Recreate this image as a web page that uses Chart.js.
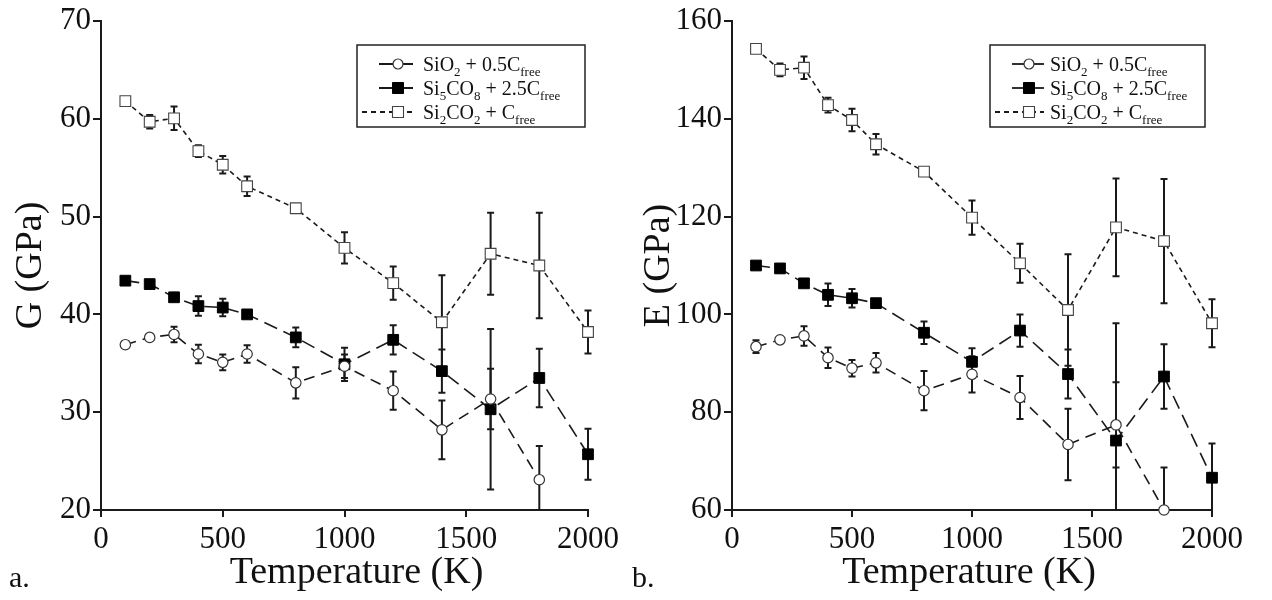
<!DOCTYPE html>
<html>
<head>
<meta charset="utf-8">
<script src="https://cdn.jsdelivr.net/npm/chart.js@4.4.1/dist/chart.umd.min.js"></script>
<style>
	body { margin: 0; background: #fff; }
	#wrap { position: relative; width: 1272px; height: 600px; font-family: 'Liberation Serif', serif; }
	.panel { position: absolute; top: 0; width: 636px; height: 600px; }
	.tag { position: absolute; top: 562px; font-size: 30px; line-height: 30px; color: #111; }
</style>
</head>
<body>
<div id="wrap">
	<div class="panel" style="left:0"><canvas id="chartG" width="636" height="600"></canvas></div>
	<div class="panel" style="left:636px"><canvas id="chartE" width="636" height="600"></canvas></div>
	<div class="tag" style="left:9px">a.</div>
	<div class="tag" style="left:632px">b.</div>
</div>
<script>
// temperatures (K)
const temps = [100, 200, 300, 400, 500, 600, 800, 1000, 1200, 1400, 1600, 1800, 2000];
const seriesNames = ['SiO2 + 0.5Cfree', 'Si5CO8 + 2.5Cfree', 'Si2CO2 + Cfree'];
// legend text split into [text, isSubscript]
const seriesLabelParts = [
	[['SiO', 0], ['2', 1], [' + 0.5C', 0], ['free', 1]],
	[['Si', 0], ['5', 1], ['CO', 0], ['8', 1], [' + 2.5C', 0], ['free', 1]],
	[['Si', 0], ['2', 1], ['CO', 0], ['2', 1], [' + C', 0], ['free', 1]]
];

// shear modulus G (GPa) and error
const gSiO2 = [36.9, 37.65, 37.95, 35.95, 35.1, 35.95, 33.0, 34.7, 32.2, 28.2, 31.35, 23.1, null];
const gSiO2Err = [0.3, 0.2, 0.8, 0.95, 0.8, 0.9, 1.6, 1.2, 1.95, 3.0, 3.1, 3.45, null];
const gSi5CO8 = [43.45, 43.1, 41.75, 40.85, 40.7, 40.0, 37.65, 34.9, 37.4, 34.2, 30.3, 33.5, 25.7];
const gSi5CO8Err = [0.2, 0.4, 0.3, 1.0, 0.9, 0.3, 1.0, 1.7, 1.5, 2.2, 8.2, 3.0, 2.6];
const gSi2CO2 = [61.8, 59.7, 60.05, 56.7, 55.3, 53.1, 50.85, 46.8, 43.2, 39.2, 46.2, 45.0, 38.2];
const gSi2CO2Err = [0.2, 0.7, 1.2, 0.6, 0.9, 1.0, 0.3, 1.6, 1.7, 4.8, 4.2, 5.4, 2.2];
const gTicks = [20, 70, 10];

// Young's modulus E (GPa) and error
const eSiO2 = [93.4, 94.8, 95.6, 91.15, 89.0, 90.1, 84.4, 87.75, 83.0, 73.4, 77.4, 60.0, null];
const eSiO2Err = [1.3, 0.4, 2.0, 2.1, 1.7, 2.0, 4.0, 3.7, 4.4, 7.3, 8.7, 8.7, null];
const eSi5CO8 = [110.0, 109.4, 106.35, 104.0, 103.3, 102.3, 96.25, 90.3, 96.7, 87.8, 74.2, 87.3, 66.6];
const eSi5CO8Err = [0.4, 0.8, 0.5, 2.3, 1.9, 0.5, 2.3, 2.8, 3.3, 5.0, 24.0, 6.6, 7.0];
const eSi2CO2 = [154.3, 150.0, 150.45, 142.8, 139.75, 134.8, 129.2, 119.8, 110.45, 100.9, 117.8, 115.0, 98.2];
const eSi2CO2Err = [0.4, 1.3, 2.3, 1.5, 2.3, 2.1, 0.5, 3.5, 4.0, 11.4, 10.0, 12.7, 4.9];
const eTicks = [60, 160, 20];

const serif = '"Liberation Serif", "Times New Roman", serif';
const ink = '#1a1a1a';

// vertical error bars, drawn under the lines and markers
const errorBars = {
	id: 'errorBars',
	beforeDatasetsDraw(chart) {
		const ctx = chart.ctx, area = chart.chartArea;
		const xs = chart.scales.x, ys = chart.scales.y;
		ctx.save();
		ctx.beginPath();
		ctx.rect(area.left, area.top - 1, area.right - area.left + 8, area.bottom - area.top + 1);
		ctx.clip();
		ctx.strokeStyle = ink;
		ctx.lineWidth = 2;
		chart.data.datasets.forEach(ds => {
			ds.data.forEach((p, i) => {
				const e = ds.errors[i];
				if(p.y == null || !e) return;
				const px = xs.getPixelForValue(p.x);
				const top = ys.getPixelForValue(p.y + e);
				const bot = ys.getPixelForValue(p.y - e);
				ctx.beginPath();
				ctx.moveTo(px, top); ctx.lineTo(px, bot);
				ctx.moveTo(px - 3.5, top); ctx.lineTo(px + 3.5, top);
				ctx.moveTo(px - 3.5, bot); ctx.lineTo(px + 3.5, bot);
				ctx.stroke();
			});
		});
		ctx.restore();
	}
};

// x axis title, drawn by hand so it can sit a little off centre like the original
const xTitle = {
	id: 'xTitle',
	afterDraw(chart, args, opts) {
		const ctx = chart.ctx, area = chart.chartArea;
		ctx.save();
		ctx.font = '38px ' + serif;
		ctx.fillStyle = '#111';
		ctx.textAlign = 'center';
		ctx.textBaseline = 'alphabetic';
		ctx.fillText(opts.text, (area.left + area.right) / 2 + opts.dx, 583);
		ctx.restore();
	}
};

function drawRich(ctx, parts, x, y) {
	parts.forEach(([txt, sub]) => {
		ctx.font = (sub ? '13px ' : '20px ') + serif;
		ctx.fillText(txt, x, sub ? y + 5 : y);
		x += ctx.measureText(txt).width;
	});
}

// boxed legend with subscripts
const boxLegend = {
	id: 'boxLegend',
	afterDraw(chart, args, opts) {
		const ctx = chart.ctx;
		ctx.save();
		ctx.strokeStyle = '#222';
		ctx.lineWidth = 1.5;
		ctx.strokeRect(opts.x, opts.y, opts.w, opts.h);
		chart.data.datasets.forEach((ds, i) => {
			const cy = opts.y + 19 + i * 24;
			const mx = opts.x + opts.marker;
			ctx.strokeStyle = ink;
			ctx.lineWidth = 1.8;
			ctx.setLineDash(ds.legendDash);
			ctx.beginPath();
			ctx.moveTo(opts.x + ds.legendStart, cy);
			ctx.lineTo(opts.x + opts.lineEnd, cy);
			ctx.stroke();
			ctx.setLineDash([]);
			ctx.fillStyle = ds.pointBackgroundColor;
			ctx.strokeStyle = ds.pointBorderColor;
			ctx.lineWidth = ds.pointBorderWidth;
			ctx.beginPath();
			if(ds.pointStyle === 'circle') {
				ctx.arc(mx, cy, 5, 0, Math.PI * 2);
			} else {
				ctx.rect(mx - 5.5, cy - 5.5, 11, 11);
			}
			ctx.fill();
			ctx.stroke();
			ctx.fillStyle = '#111';
			ctx.textBaseline = 'alphabetic';
			drawRich(ctx, seriesLabelParts[i], opts.x + opts.text, cy + 7);
		});
		ctx.restore();
	}
};

function pts(vals) {
	return temps.map((t, i) => ({ x: t, y: vals[i] }));
}

function makeDatasets(a, aErr, b, bErr, c, cErr) {
	const common = { borderColor: ink, borderWidth: 1.6, fill: false, clip: false, tension: 0 };
	return [
		Object.assign({}, common, {
			label: seriesNames[0], data: pts(a), errors: aErr,
			borderDash: [11, 7], pointStyle: 'circle', pointRadius: 5.2,
			pointBackgroundColor: '#fff', pointBorderColor: '#333', pointBorderWidth: 1.2,
			legendDash: [], legendStart: 22
		}),
		Object.assign({}, common, {
			label: seriesNames[1], data: pts(b), errors: bErr,
			borderDash: [14, 7], pointStyle: 'rect', pointRadius: 7.6,
			pointBackgroundColor: '#000', pointBorderColor: '#000', pointBorderWidth: 1,
			legendDash: [], legendStart: 22
		}),
		Object.assign({}, common, {
			label: seriesNames[2], data: pts(c), errors: cErr,
			borderDash: [5, 4], pointStyle: 'rect', pointRadius: 7.6,
			pointBackgroundColor: '#fff', pointBorderColor: '#444', pointBorderWidth: 1.1,
			legendDash: [5, 4], legendStart: 5
		})
	];
}

function makeOptions(yTicks, yTitle, yWidth, yTitlePad, padRight, titleDx, legendBox) {
	const tickFont = { family: serif, size: 31 };
	const titleFont = { family: serif, size: 38 };
	return {
		responsive: false,
		animation: false,
		layout: { padding: { top: 21, right: padRight, bottom: 0, left: 0 } },
		plugins: {
			legend: { display: false },
			tooltip: { enabled: false },
			xTitle: { text: 'Temperature (K)', dx: titleDx },
			boxLegend: legendBox
		},
		scales: {
			x: {
				type: 'linear', min: 0, max: 2000,
				ticks: { stepSize: 500, color: '#111', font: tickFont, padding: 4, maxRotation: 0, callback: v => String(v) },
				grid: { drawOnChartArea: false, color: ink, lineWidth: 2, tickLength: 7 },
				border: { color: ink, width: 2 },
				afterFit: s => { s.height = 90; }
			},
			y: {
				type: 'linear', min: yTicks[0], max: yTicks[1],
				ticks: { stepSize: yTicks[2], color: '#111', font: tickFont, padding: 2, callback: v => String(v) },
				grid: { drawOnChartArea: false, color: ink, lineWidth: 2, tickLength: 8 },
				border: { color: ink, width: 2 },
				title: { display: true, text: yTitle, color: '#111', font: titleFont, padding: { top: yTitlePad, bottom: 0 } },
				afterFit: s => { s.width = yWidth; }
			}
		}
	};
}

new Chart(document.getElementById('chartG'), {
	type: 'line',
	data: { datasets: makeDatasets(gSiO2, gSiO2Err, gSi5CO8, gSi5CO8Err, gSi2CO2, gSi2CO2Err) },
	options: makeOptions(gTicks, 'G (GPa)', 101, 8, 48, 12,
		{ x: 357, y: 45, w: 228, h: 82, marker: 41, lineEnd: 56, text: 66 }),
	plugins: [errorBars, boxLegend, xTitle]
});

new Chart(document.getElementById('chartE'), {
	type: 'line',
	data: { datasets: makeDatasets(eSiO2, eSiO2Err, eSi5CO8, eSi5CO8Err, eSi2CO2, eSi2CO2Err) },
	options: makeOptions(eTicks, 'E (GPa)', 96, 0, 60, -3,
		{ x: 354, y: 45, w: 215, h: 82, marker: 39, lineEnd: 54, text: 60 }),
	plugins: [errorBars, boxLegend, xTitle]
});
</script>
</body>
</html>
